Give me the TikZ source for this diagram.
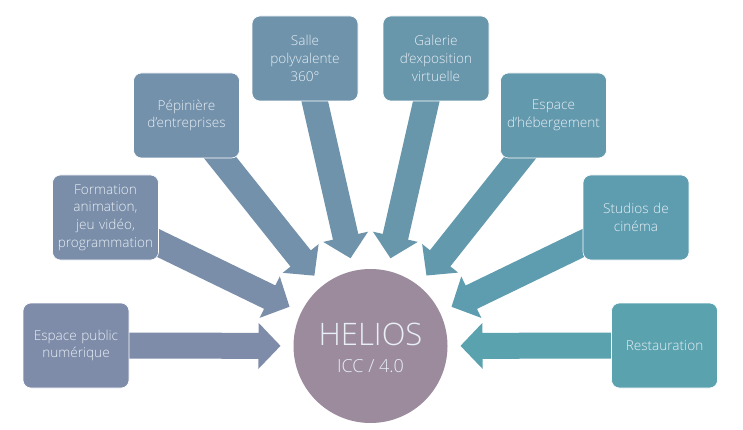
\documentclass[tikz,border=0pt]{standalone}
\usepackage{fontspec}
\setmainfont{Open Sans}[UprightFont=* Light]
\usetikzlibrary{calc,backgrounds}
\definecolor{ca}{HTML}{7E8CA9}
\definecolor{cb}{HTML}{7A8EA9}
\definecolor{cc}{HTML}{7491AB}
\definecolor{cd}{HTML}{6E93AB}
\definecolor{ce}{HTML}{6896AB}
\definecolor{cf}{HTML}{6399AD}
\definecolor{cg}{HTML}{5E9DAF}
\definecolor{ch}{HTML}{5BA2AF}
\definecolor{hub}{HTML}{9B8B9D}
\definecolor{txt}{HTML}{E8EFF5}
\newcommand\blockarr[2]{%
  \path ($(c.center)!90pt!(#1.center)$) coordinate (T)
        ($(c.center)!112pt!(#1.center)$) coordinate (H)
        (#1.center) coordinate (B);
  \fill[#2] (T)
    -- ($(H)!23pt!90:(T)$)
    -- ($(H)!13pt!90:(T)$)
    -- ($(B)!13pt!90:(T)$)
    -- ($(B)!13pt!-90:(T)$)
    -- ($(H)!13pt!-90:(T)$)
    -- ($(H)!23pt!-90:(T)$)
    -- cycle;}
\tikzset{
  box/.style={rectangle, rounded corners=8pt, minimum width=106pt, minimum height=85pt,
    text width=102pt, align=center, inner sep=0pt, text=txt, draw=white, line width=0.6pt,
    font=\fontsize{13.6}{17.8}\selectfont},
}
\begin{document}
\begin{tikzpicture}[x=1pt,y=-1pt]
\useasboundingbox (0,0) rectangle (743,430);
\node[circle, fill=hub, minimum size=154pt, inner sep=0pt] (c) at (370.5,346) {};
\node[anchor=base, text=txt, font=\fontsize{31}{31}\selectfont] (h1) at (370.5,345) {HELIOS};
\node[anchor=base, text=txt, font=\fontsize{18}{18}\selectfont] (h2) at (370.5,372) {ICC / 4.0};
\node[box, fill=ca] (b1) at (76,345.5) {Espace public\\numérique};
\node[box, fill=cb] (b2) at (105.5,217.5) {Formation\\animation,\\jeu vidéo,\\programmation};
\node[box, fill=cc] (b3) at (186.5,115.5) {Pépinière\\d’entreprises};
\node[box, fill=cd] (b4) at (305,58.5) {Salle\\polyvalente\\360°};
\node[box, fill=ce] (b5) at (436,58.5) {Galerie\\d’exposition\\virtuelle};
\node[box, fill=cf] (b6) at (553.5,115.5) {Espace\\d’hébergement};
\node[box, fill=cg] (b7) at (636,217.5) {Studios de\\cinéma};
\node[box, fill=ch] (b8) at (664.5,345.5) {Restauration};
\begin{scope}[on background layer]
\blockarr{b1}{ca}
\blockarr{b2}{cb}
\blockarr{b3}{cc}
\blockarr{b4}{cd}
\blockarr{b5}{ce}
\blockarr{b6}{cf}
\blockarr{b7}{cg}
\blockarr{b8}{ch}
\end{scope}
\end{tikzpicture}
\end{document}
